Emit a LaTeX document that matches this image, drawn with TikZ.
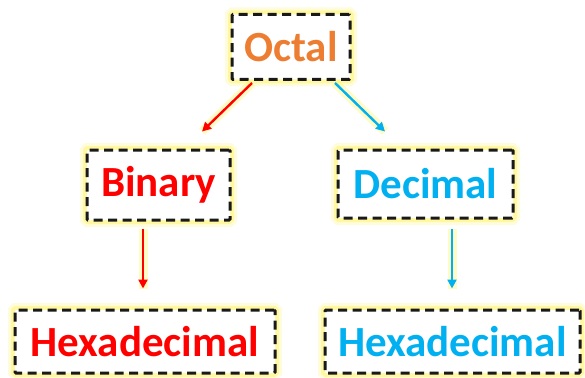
\documentclass[tikz,border=0pt]{standalone}
\usepackage{fontspec}
\setmainfont{Carlito}
\usetikzlibrary{arrows.meta}
\definecolor{octorange}{HTML}{ED7D31}
\definecolor{binred}{HTML}{FF0000}
\definecolor{decblue}{HTML}{00B0F0}
\definecolor{glowy}{HTML}{FFF35A}
\tikzset{
  x=1pt, y=-1pt,
  glowbox/.style={draw=black!90, line width=3pt, dash pattern=on 9pt off 5.5pt,
    rounded corners=1pt, fill=white, inner sep=0pt,
    preaction={draw=glowy, solid, line width=14pt, opacity=0.22},
    preaction={draw=glowy, solid, line width=8pt, opacity=0.45},
    font=\bfseries\fontsize{43}{48}\selectfont},
  conn/.style={line width=2.4pt, -{Triangle[length=9pt,width=9pt]},
    preaction={draw=glowy, line width=9pt, opacity=0.35, -}},
}
\begin{document}
\begin{tikzpicture}
\useasboundingbox (0,0) rectangle (585,377);
\node[glowbox, minimum width=118pt, minimum height=65pt, text=octorange] (octal) at (291,47) {Octal};
\node[glowbox, minimum width=143pt, minimum height=70pt, text=binred] (binary) at (158.5,185) {Binary};
\node[glowbox, minimum width=175pt, minimum height=68pt, text=decblue] (decimal) at (425.5,184) {Decimal};
\node[glowbox, minimum width=260pt, minimum height=63pt, text=binred] (hexl) at (145,341.5) {Hexadecimal};
\node[glowbox, minimum width=255pt, minimum height=63pt, text=decblue] (hexr) at (452.5,341.5) {Hexadecimal};
\draw[conn, draw=binred] ([xshift=-39pt,yshift=-2pt]octal.south) -- ([xshift=43.5pt,yshift=17pt]binary.north);
\draw[conn, draw=decblue] ([xshift=44pt,yshift=-2pt]octal.south) -- ([xshift=-40.5pt,yshift=17pt]decimal.north);
\draw[conn, draw=binred] ([xshift=-15.5pt,yshift=-7pt]binary.south) -- ([xshift=-2pt,yshift=20pt]hexl.north);
\draw[conn, draw=decblue] ([xshift=26.5pt,yshift=-9pt]decimal.south) -- ([xshift=-0.5pt,yshift=20pt]hexr.north);
\end{tikzpicture}
\end{document}
